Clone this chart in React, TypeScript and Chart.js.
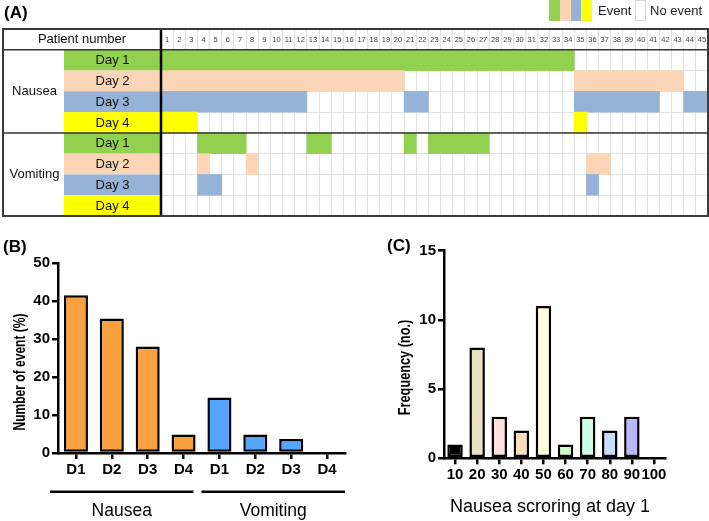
import React, { useEffect, useRef } from 'react';
import { Chart, registerables } from 'chart.js';
Chart.register(...registerables);

const FONT = "'Liberation Sans', Arial, Helvetica, sans-serif";
Chart.defaults.font.family = FONT;

// ---------- Panel A data ----------
const patientLabels = ['1','2','3','4','5','6','7','8','9','10','11','12','13','14','15','16','17','18','19','20','21','22','23','24','25','26','27','28','29','30','31','32','33','34','35','36','37','38','39','40','41','42','43','44','45'];
const groupLabels = ['Nausea', 'Vomiting'];
const dayLabels = ['Day 1', 'Day 2', 'Day 3', 'Day 4'];
const dayColors = ['#92D050', '#FBD5B5', '#95B3D7', '#FFFF00'];
// event runs: [first patient, last patient]
const nauseaDay1 = [[1, 34]];
const nauseaDay2 = [[1, 20], [35, 43]];
const nauseaDay3 = [[1, 12], [21, 22], [35, 41], [44, 45]];
const nauseaDay4 = [[1, 3], [35, 35]];
const vomitingDay1 = [[4, 7], [13, 14], [21, 21], [23, 27]];
const vomitingDay2 = [[4, 4], [8, 8], [36, 37]];
const vomitingDay3 = [[4, 5], [36, 36]];
const vomitingDay4: number[][] = [];

// ---------- Panel B data ----------
const bCategories = ['D1', 'D2', 'D3', 'D4', 'D1', 'D2', 'D3', 'D4'];
const bValues = [41.5, 35.4, 28.0, 4.9, 14.6, 4.9, 3.7, 0];
const bGroups = ['Nausea', 'Vomiting'];
const bGroupColors = ['#F9A040', '#55A5FF'];

// ---------- Panel C data ----------
const cCategories = ['10', '20', '30', '40', '50', '60', '70', '80', '90', '100'];
const cValues = [1, 8, 3, 2, 11, 1, 3, 2, 3, 0];
const cColors = ['#000000', '#E8E2C2', '#FFE0E0', '#FFDDB8', '#FFFFE0', '#CCFFCC', '#CCFFE8', '#C8DEFF', '#B8B8FF', '#FFFFFF'];

const rowRuns = [nauseaDay1, nauseaDay2, nauseaDay3, nauseaDay4, vomitingDay1, vomitingDay2, vomitingDay3, vomitingDay4];
const rowLabels = ['Patient number', ...groupLabels.flatMap(g => dayLabels.map(d => g + ' ' + d))];

const tableDecor = {
  id: 'tableDecor',
  afterDraw(chart: any) {
    const { ctx, chartArea: ca, scales } = chart;
    const x = scales.x, y = scales.y;
    const rowH = y.getPixelForValue(1) - y.getPixelForValue(0);
    const top = (i: number) => y.getPixelForValue(i) - rowH / 2;
    const leftEdge = 3;
    const dayLeft = 64;
    ctx.save();
    for (let r = 0; r < 8; r++) {
      ctx.fillStyle = dayColors[r % 4];
      ctx.fillRect(dayLeft, top(r + 1), ca.left - dayLeft, rowH);
    }
    ctx.fillStyle = '#111';
    ctx.textAlign = 'center';
    ctx.textBaseline = 'middle';
    ctx.font = '13px ' + FONT;
    ctx.fillText('Patient number', (leftEdge + ca.left) / 2, y.getPixelForValue(0) + 0.5);
    for (let r = 0; r < 8; r++) {
      ctx.fillText(dayLabels[r % 4], (dayLeft + ca.left) / 2, y.getPixelForValue(r + 1) + 0.5);
    }
    groupLabels.forEach((g, gi) => {
      const cy = (top(1 + gi * 4) + top(5 + gi * 4)) / 2;
      ctx.fillText(g, (leftEdge + dayLeft) / 2 + 1, cy);
    });
    ctx.font = '7.5px ' + FONT;
    ctx.fillStyle = '#444';
    patientLabels.forEach((p, i) => {
      ctx.fillText(p, x.getPixelForValue(i + 0.5), y.getPixelForValue(0) + 0.5);
    });
    ctx.strokeStyle = '#333';
    ctx.lineWidth = 1.5;
    [1, 5].forEach(i => {
      ctx.beginPath();
      ctx.moveTo(leftEdge, top(i));
      ctx.lineTo(ca.right, top(i));
      ctx.stroke();
    });
    ctx.strokeStyle = '#000';
    ctx.lineWidth = 2.5;
    ctx.beginPath();
    ctx.moveTo(ca.left, ca.top);
    ctx.lineTo(ca.left, ca.bottom);
    ctx.stroke();
    ctx.strokeStyle = '#3a3a3a';
    ctx.lineWidth = 2;
    ctx.strokeRect(leftEdge, ca.top, ca.right - leftEdge, ca.bottom - ca.top);
    ctx.restore();
  },
};

function drawVerticalTitle(ctx: any, text: string, cx: number, cy: number, size: number, squeeze: number) {
  ctx.save();
  ctx.fillStyle = '#000';
  ctx.textAlign = 'center';
  ctx.textBaseline = 'middle';
  ctx.translate(cx, cy);
  ctx.rotate(-Math.PI / 2);
  ctx.scale(squeeze, 1);
  ctx.font = 'bold ' + size + 'px ' + FONT;
  ctx.fillText(text, 0, 0);
  ctx.restore();
}

const bDecor = {
  id: 'bDecor',
  afterDraw(chart: any) {
    const { ctx, chartArea: ca, scales } = chart;
    const x = scales.x;
    const half = (x.getPixelForValue(1) - x.getPixelForValue(0)) / 2;
    drawVerticalTitle(ctx, 'Number of event (%)', 20, (ca.top + ca.bottom) / 2 + 14, 16.5, 0.73);
    ctx.save();
    ctx.strokeStyle = '#000';
    ctx.lineWidth = 2.5;
    ctx.fillStyle = '#000';
    ctx.textAlign = 'center';
    ctx.textBaseline = 'middle';
    ctx.font = '17.5px ' + FONT;
    bGroups.forEach((g, gi) => {
      const first = gi * 4, last = gi * 4 + 3;
      const shift = gi === 0 ? -8 : 0;
      const x0 = x.getPixelForValue(first) - half + shift;
      const x1 = x.getPixelForValue(last) + half + shift;
      const ly = ca.bottom + 38.7;
      ctx.beginPath();
      ctx.moveTo(x0, ly);
      ctx.lineTo(x1, ly);
      ctx.stroke();
      ctx.fillText(g, (x0 + x1) / 2, ca.bottom + 58.5);
    });
    ctx.restore();
  },
};

const cDecor = {
  id: 'cDecor',
  afterDraw(chart: any) {
    const { ctx, chartArea: ca } = chart;
    ctx.save();
    ctx.fillStyle = '#000';
    ctx.textAlign = 'center';
    ctx.textBaseline = 'middle';
    ctx.font = '18px ' + FONT;
    ctx.fillText('Nausea scroring at day 1', (ca.left + ca.right) / 2 - 4.5, ca.bottom + 48.4);
    ctx.restore();
    drawVerticalTitle(ctx, 'Frequency (no.)', 45, (ca.top + ca.bottom) / 2 + 13, 16.5, 0.77);
  },
};

function axisY(max: number, step: number, width: number) {
  return {
    min: 0,
    max,
    ticks: { stepSize: step, color: '#000', font: { size: 15, weight: 'bold' as const }, padding: 2 },
    grid: { drawOnChartArea: false, drawTicks: true, tickLength: 6, color: '#000', lineWidth: 2.5 },
    border: { display: true, color: '#000', width: 2.5 },
    afterFit: (s: any) => { s.width = width; },
  };
}
function axisX(height: number) {
  return {
    type: 'category' as const,
    offset: true,
    ticks: { color: '#000', font: { size: 15, weight: 'bold' as const }, padding: 2, maxRotation: 0, autoSkip: false },
    grid: { offset: false, drawOnChartArea: false, drawTicks: true, tickLength: 6, color: '#000', lineWidth: 2.5 },
    border: { display: true, color: '#000', width: 2.5 },
    afterFit: (s: any) => { s.height = height; },
  };
}

export default function App() {
  const aRef = useRef<HTMLCanvasElement>(null);
  const bRef = useRef<HTMLCanvasElement>(null);
  const cRef = useRef<HTMLCanvasElement>(null);

  useEffect(() => {
    const points = rowRuns.flatMap((runs, r) =>
      runs.map(([a, b]) => ({ y: rowLabels[r + 1], x: [a - 1, b], row: r }))
    );
    const chartA = new Chart(aRef.current as HTMLCanvasElement, {
      type: 'bar',
      data: {
        labels: rowLabels,
        datasets: [{
          data: points as any,
          backgroundColor: (c: any) => (c.raw ? dayColors[c.raw.row % 4] : '#fff'),
          borderWidth: 0,
          barPercentage: 1,
          categoryPercentage: 1,
        }],
      },
      options: {
        indexAxis: 'y',
        animation: false,
        responsive: false,
        maintainAspectRatio: false,
        layout: { padding: { left: 161, top: 29, right: 1, bottom: 4 } },
        plugins: { legend: { display: false }, tooltip: { enabled: false } },
        scales: {
          x: {
            type: 'linear', min: 0, max: 45,
            ticks: { display: false, stepSize: 1 },
            grid: { color: '#e2e2e2', drawTicks: false },
            border: { display: false },
          },
          y: {
            type: 'category', offset: true,
            ticks: { display: false },
            grid: { offset: true, color: '#e2e2e2', drawTicks: false },
            border: { display: false },
          },
        },
      },
      plugins: [tableDecor],
    });

    const chartB = new Chart(bRef.current as HTMLCanvasElement, {
      type: 'bar',
      data: {
        labels: bCategories,
        datasets: [{
          data: bValues,
          backgroundColor: (c: any) => bGroupColors[Math.floor(c.dataIndex / 4)],
          borderColor: '#000',
          borderWidth: 2.5,
          borderSkipped: false,
          barPercentage: 0.67,
          categoryPercentage: 1,
        }],
      },
      options: {
        animation: false,
        responsive: false,
        maintainAspectRatio: false,
        layout: { padding: { left: 8, top: 38, right: 15, bottom: 38 } },
        plugins: { legend: { display: false }, tooltip: { enabled: false } },
        scales: { x: axisX(30) as any, y: axisY(50, 10, 50) as any },
      },
      plugins: [bDecor],
    });

    const chartC = new Chart(cRef.current as HTMLCanvasElement, {
      type: 'bar',
      data: {
        labels: cCategories,
        datasets: [{
          data: cValues,
          backgroundColor: cColors,
          borderColor: '#000',
          borderWidth: 2.5,
          borderSkipped: false,
          barPercentage: 0.7,
          categoryPercentage: 1,
        }],
      },
      options: {
        animation: false,
        responsive: false,
        maintainAspectRatio: false,
        layout: { padding: { left: 32, top: 25.7, right: 44, bottom: 32.7 } },
        plugins: { legend: { display: false }, tooltip: { enabled: false } },
        scales: { x: axisX(30) as any, y: axisY(15, 5, 52) as any },
      },
      plugins: [cDecor],
    });

    return () => { chartA.destroy(); chartB.destroy(); chartC.destroy(); };
  }, []);

  const lbl = (text: string, left: number, top: number) => (
    <div style={{ position: 'absolute', left, top, font: 'bold 17px ' + FONT, lineHeight: '17px', color: '#000' }}>{text}</div>
  );

  return (
    <div style={{ position: 'absolute', left: 0, top: 0, width: 709, height: 521, background: '#fff', overflow: 'hidden', fontFamily: FONT }}>
      <canvas ref={aRef} width={709} height={220} style={{ position: 'absolute', left: 0, top: 0, display: 'block' }} />
      <canvas ref={bRef} width={360} height={296} style={{ position: 'absolute', left: 0, top: 225, display: 'block' }} />
      <canvas ref={cRef} width={349} height={296} style={{ position: 'absolute', left: 360, top: 225, display: 'block' }} />
      {lbl('(A)', 4, 4)}
      {lbl('(B)', 3, 238)}
      {lbl('(C)', 387, 237)}
      {dayColors.map((c, i) => (
        <div key={c} style={{ position: 'absolute', left: 549 + i * 10.75, top: 0, width: 10.75, height: 21, background: c }} />
      ))}
      <div style={{ position: 'absolute', left: 598, top: 0, font: '13px ' + FONT, lineHeight: '21px', color: '#222' }}>Event</div>
      <div style={{ position: 'absolute', left: 635, top: 0, width: 9, height: 19, border: '1px solid #d8d8c4', background: '#fff' }} />
      <div style={{ position: 'absolute', left: 650, top: 0, font: '13px ' + FONT, lineHeight: '21px', color: '#222' }}>No event</div>
    </div>
  );
}
